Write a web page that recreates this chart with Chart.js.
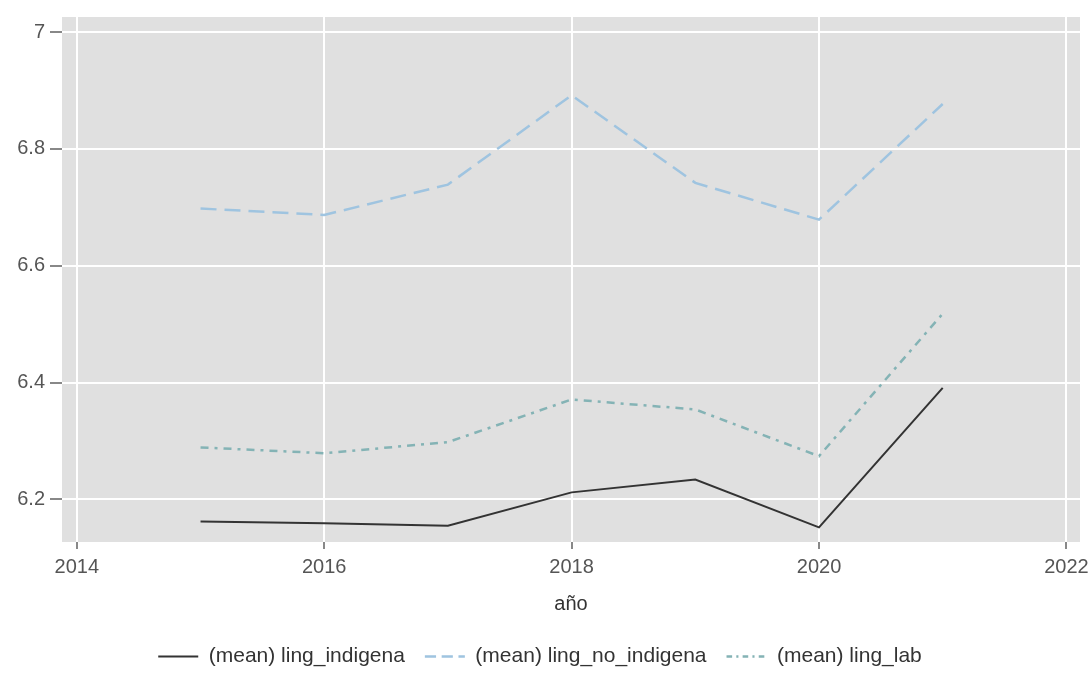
<!DOCTYPE html>
<html>
<head>
<meta charset="utf-8">
<script src="https://cdn.jsdelivr.net/npm/chart.js@4.4.1/dist/chart.umd.min.js"></script>
<style>
  html, body { margin: 0; padding: 0; background: #fff; }
  #wrap { width: 1092px; height: 673px; }
</style>
</head>
<body>
<div id="wrap"><canvas id="chart"></canvas></div>
<script>
// values
const years = [2015, 2016, 2017, 2018, 2019, 2020, 2021];
const lingIndigena = [6.162, 6.159, 6.155, 6.212, 6.234, 6.152, 6.391];
const lingNoIndigena = [6.698, 6.687, 6.739, 6.892, 6.742, 6.679, 6.877];
const lingLab = [6.289, 6.279, 6.298, 6.371, 6.354, 6.274, 6.518];
const xTicks = [2014, 2016, 2018, 2020, 2022];
const yTicks = [6.2, 6.4, 6.6, 6.8, 7];
const seriesNames = ['(mean) ling_indigena', '(mean) ling_no_indigena', '(mean) ling_lab'];

const toPoints = vals => years.map((y, i) => ({ x: y, y: vals[i] }));

// grey ggplot-style panel behind the grid
const panelBg = {
  id: 'panelBg',
  beforeDraw(chart) {
    const { ctx, chartArea: a } = chart;
    ctx.save();
    ctx.fillStyle = '#e0e0e0';
    ctx.fillRect(a.left, a.top, a.right - a.left, a.bottom - a.top);
    ctx.restore();
  }
};

const tickFont = { family: '"Liberation Sans", Arial, sans-serif', size: 20 };
const legendFont = { family: '"Liberation Sans", Arial, sans-serif', size: 21 };

const ctx = document.getElementById('chart').getContext('2d');
const chart = new Chart(ctx, {
  type: 'line',
  data: {
    datasets: [
      {
        label: seriesNames[0],
        data: toPoints(lingIndigena),
        borderColor: '#333333',
        borderWidth: 2,
        pointRadius: 0
      },
      {
        label: seriesNames[1],
        data: toPoints(lingNoIndigena),
        borderColor: '#9fc4e0',
        borderWidth: 2.5,
        borderDash: [16, 8],
        pointRadius: 0
      },
      {
        label: seriesNames[2],
        data: toPoints(lingLab),
        borderColor: '#84b3b5',
        borderWidth: 2.5,
        borderDash: [8, 6, 3, 6],
        pointRadius: 0
      }
    ]
  },
  options: {
    responsive: true,
    maintainAspectRatio: false,
    animation: false,
    // slightly negative bottom padding so the wider legend spacing doesn't push the legend up
    layout: { padding: { top: 15, right: 12, left: 0, bottom: -4 } },
    plugins: {
      legend: {
        position: 'bottom',
        labels: {
          usePointStyle: true,
          pointStyle: 'line',
          pointStyleWidth: 40,
          boxHeight: 19,
          padding: 20,
          color: '#333',
          font: legendFont,
          generateLabels: chart => {
            const items = Chart.defaults.plugins.legend.labels.generateLabels(chart);
            items.forEach(it => {
              const ds = chart.data.datasets[it.datasetIndex];
              it.lineDash = ds.borderDash ? ds.borderDash.map(d => d * 0.7) : [];
              it.strokeStyle = ds.borderColor;
              it.lineWidth = ds.borderWidth;
              it.pointStyle = 'line';
            });
            return items;
          }
        }
      },
      tooltip: { enabled: false }
    },
    scales: {
      x: {
        type: 'linear',
        min: 2013.88,
        max: 2022.11,
        afterBuildTicks: scale => { scale.ticks = xTicks.map(v => ({ value: v })); },
        afterFit: scale => {
          scale.height = 84;
          scale.paddingLeft = 0;
          scale.paddingRight = 0;
        },
        ticks: {
          color: '#555',
          font: tickFont,
          padding: 6,
          maxRotation: 0,
          callback: v => String(v)
        },
        grid: {
          color: '#ffffff',
          lineWidth: 2,
          tickColor: '#888',
          tickLength: 7
        },
        border: { display: false },
        title: {
          display: true,
          text: 'año',
          color: '#333',
          font: tickFont,
          padding: { top: 6, bottom: 10 }
        }
      },
      y: {
        type: 'linear',
        min: 6.127,
        max: 7.026,
        afterBuildTicks: scale => { scale.ticks = yTicks.map(v => ({ value: v })); },
        afterFit: scale => { scale.width = 62; },
        ticks: {
          color: '#555',
          font: tickFont,
          padding: 5,
          callback: v => String(v)
        },
        grid: {
          color: '#ffffff',
          lineWidth: 2,
          tickColor: '#888',
          tickLength: 12
        },
        border: { display: false }
      }
    }
  },
  plugins: [panelBg]
});
</script>
</body>
</html>
